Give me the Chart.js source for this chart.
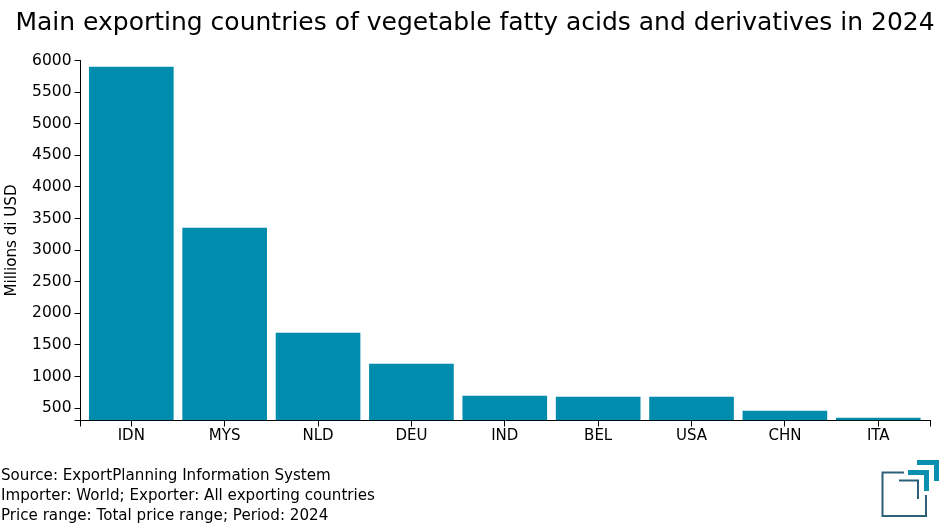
<!DOCTYPE html>
<html><head><meta charset="utf-8">
<script src="https://cdn.jsdelivr.net/npm/chart.js@4/dist/chart.umd.min.js"></script>
<style>
html,body{margin:0;padding:0;background:#fff;width:950px;height:530px;overflow:hidden}
#wrap{position:relative;width:950px;height:530px}
canvas{position:absolute;left:0;top:0}
#foot{position:absolute;left:1px;top:465px;font:15.12px/20px "DejaVu Sans";color:#000;white-space:nowrap}
#logo{position:absolute;left:0;top:0}
</style></head><body>
<div id="wrap"><canvas id="c" width="950" height="530"></canvas>
<div id="foot">Source: ExportPlanning Information System<br>Importer: World; Exporter: All exporting countries<br>Price range: Total price range; Period: 2024</div>
<svg id="logo" width="950" height="530" fill="none">
<path d="M904 472.500H882.500V516H926V495" stroke="#2a6078" stroke-width="2"/>
<path d="M899 480.500H918V499" stroke="#2a6078" stroke-width="2"/>
<path d="M908 472.500H926.500V491" stroke="#0a8fae" stroke-width="5"/>
<path d="M917 462.500H936.500V481" stroke="#0a8fae" stroke-width="5"/>
</svg></div>
<script>
const categories=["IDN","MYS","NLD","DEU","IND","BEL","USA","CHN","ITA"];
const exportsMusd=[5897,3350,1688,1198,692,676,674,454,343];
const yTickValues=[500,1000,1500,2000,2500,3000,3500,4000,4500,5000,5500,6000];
const title="Main exporting countries of vegetable fatty acids and derivatives in 2024";
const yTitle="Millions di USD";
const font=s=>({family:"'DejaVu Sans'",size:s});
const X_MIN=-0.544,X_MAX=8.554,Y_MIN=304,Y_MAX=6000;
const shiftTitle={id:'shiftTitle',afterLayout(c){c.titleBlock.left+=10;c.titleBlock.right+=10}};
new Chart(document.getElementById('c'),{
 type:'bar',
 plugins:[shiftTitle],
 data:{datasets:[{data:exportsMusd.map((v,i)=>({x:i,y:v})),backgroundColor:'#008cad',barThickness:84,base:Y_MIN}]},
 options:{responsive:false,animation:false,
  layout:{padding:{left:0,right:20,top:0,bottom:69.5}},
  plugins:{legend:{display:false},tooltip:{enabled:false},
   title:{display:true,text:title,color:'#000',font:{...font(25),weight:'normal'},padding:{top:8,bottom:22.5}}},
  scales:{
   x:{type:'linear',offset:false,min:X_MIN,max:X_MAX,
    afterBuildTicks:s=>{s.ticks=[{value:X_MIN},...categories.map((_,i)=>({value:i})),{value:X_MAX}]},
    afterFit:s=>{s.height=40},
    grid:{drawOnChartArea:false,color:'#000',tickLength:6,tickColor:'#000',offset:false},
    border:{color:'#000',width:1},
    ticks:{autoSkip:false,maxRotation:0,color:'#000',font:font(15),padding:1,
     callback:v=>Number.isInteger(v)?categories[v]:''}},
   y:{min:Y_MIN,max:Y_MAX,
    afterBuildTicks:s=>{s.ticks=[{value:Y_MIN},...yTickValues.map(v=>({value:v}))]},
    afterFit:s=>{s.width=80.5},
    grid:{drawOnChartArea:false,color:'#000',tickLength:6,tickColor:'#000'},
    border:{color:'#000',width:1},
    title:{display:true,text:yTitle,color:'#000',font:font(15.12),padding:{top:3,bottom:0}},
    ticks:{autoSkip:false,color:'#000',font:font(15.5),padding:3,
     callback:v=>v===Y_MIN?'':String(v)}}
  }}
});
</script></body></html>
